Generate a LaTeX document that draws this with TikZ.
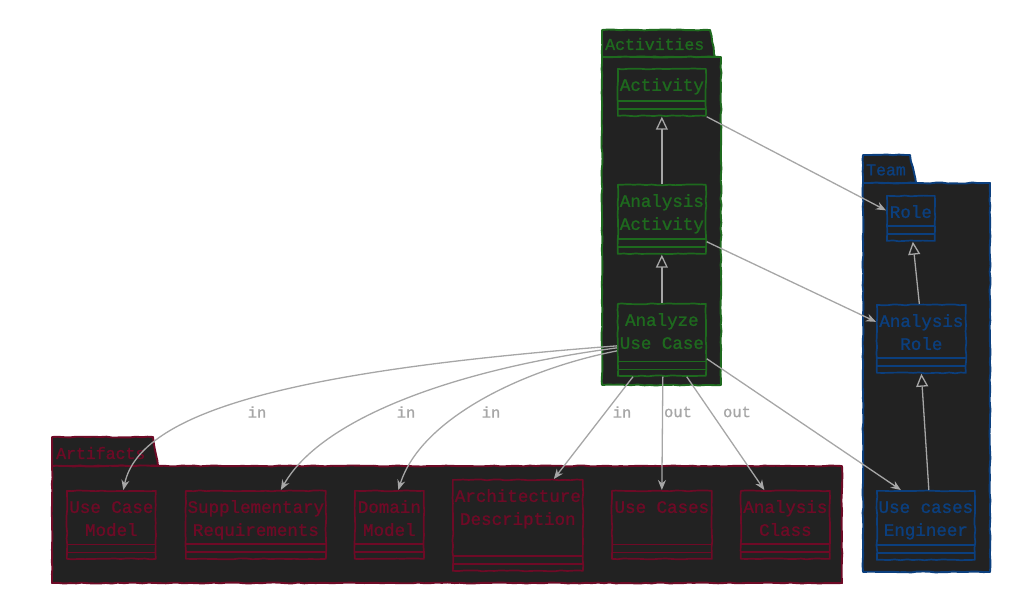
\documentclass[tikz,border=0pt]{standalone}
\usepackage{fontspec}
\newfontfamily\monofont[FakeBold=1.3]{Liberation Mono}
\usetikzlibrary{arrows.meta, decorations.pathmorphing}
\definecolor{panel}{HTML}{222222}
\definecolor{actgreen}{HTML}{1E6A1E}
\definecolor{teamblue}{HTML}{0B3F7E}
\definecolor{artred}{HTML}{6E0A26}
\definecolor{edgegray}{HTML}{A6A6A6}
\tikzset{
  wobbly/.style={decorate, decoration={random steps, segment length=6pt, amplitude=0.5pt}},
  paquet/.style={draw=#1, fill=panel, line width=1.9pt, line join=round, wobbly},
  pkglabel/.style={text=#1, anchor=west, inner sep=0pt, font=\monofont\fontsize{16.5}{20}\selectfont},
  classe/.style={draw=#1, text=#1, fill=panel, line width=1.7pt, line join=round, wobbly,
    font=\monofont\fontsize{17.5}{23}\selectfont, align=center, inner sep=0pt,
    text height=22pt, anchor=north west,
    path picture={\draw[#1, line width=1.7pt]
      ([yshift=15pt]path picture bounding box.south west) -- ([yshift=15pt]path picture bounding box.south east)
      ([yshift=7pt]path picture bounding box.south west) -- ([yshift=7pt]path picture bounding box.south east);}},
  lien/.style={draw=edgegray, line width=1.3pt, -{Stealth[length=10pt, width=8pt]}},
  herite/.style={draw=edgegray, line width=1.3pt, -{Triangle[open, length=13pt, width=12pt]}},
  lbl/.style={text=edgegray, inner sep=1pt, font=\monofont\fontsize{15.5}{18}\selectfont}
}
\begin{document}
\begin{tikzpicture}[x=1pt, y=-1pt]
  \pgfmathsetseed{7}
  \useasboundingbox (0,0) rectangle (1036,606);

  % Paquets
  \draw[paquet=actgreen] (602,57) -- (602,30) -- (710,30) -- (715,57) -- cycle;
  \draw[paquet=actgreen] (602,57) rectangle (721,385);
  \node[pkglabel=actgreen] (actlbl) at (605,44) {Activities};

  \draw[paquet=teamblue] (863,183) -- (863,155) -- (910,155) -- (916,183) -- cycle;
  \draw[paquet=teamblue] (863,183) rectangle (990,572);
  \node[pkglabel=teamblue] (teamlbl) at (866,170) {Team};

  \draw[paquet=artred] (52,466) -- (52,437) -- (153,437) -- (158,466) -- cycle;
  \draw[paquet=artred] (52,466) rectangle (842,583);
  \node[pkglabel=artred] (artlbl) at (56,453) {Artifacts};

  % Activites
  \node[classe=actgreen, minimum width=88pt, text depth=25pt] (activity) at (617,68) {Activity};
  \node[classe=actgreen, minimum width=88pt, text height=45pt, text depth=24pt] (anaact) at (617,184) {Analysis\\Activity};
  \node[classe=actgreen, minimum width=88pt, text height=45pt, text depth=27pt] (analyze) at (617,303) {Analyze\\Use Case};

  % Equipe
  \node[classe=teamblue, minimum width=48pt, text depth=23pt] (role) at (886,195) {Role};
  \node[classe=teamblue, minimum width=89pt, text height=45pt, text depth=23pt] (anarole) at (876,304) {Analysis\\Role};
  \node[classe=teamblue, minimum width=98pt, text height=45pt, text depth=24pt] (engineer) at (876,490) {Use cases\\Engineer};

  % Artefacts
  \node[classe=artred, minimum width=89pt, text height=45pt, text depth=23pt] (ucmodel) at (66,490) {Use Case\\Model};
  \node[classe=artred, minimum width=140pt, text height=45pt, text depth=23pt] (suppl) at (185,490) {Supplementary\\Requirements};
  \node[classe=artred, minimum width=69pt, text height=45pt, text depth=23pt] (domain) at (354,490) {Domain\\Model};
  \node[classe=artred, minimum width=130pt, text height=45pt, text depth=46pt] (archi) at (452,479) {Architecture\\Description};
  \node[classe=artred, minimum width=100pt, text depth=46pt] (usecases) at (611,490) {Use Cases};
  \node[classe=artred, minimum width=89pt, text height=45pt, text depth=23pt] (anaclass) at (740,490) {Analysis\\Class};

  % Heritage
  \draw[herite] (anaact.north) -- (activity.south);
  \draw[herite] (analyze.north) -- (anaact.south);
  \draw[herite] ([xshift=-2pt]anarole.north) -- ([xshift=2pt]role.south);
  \draw[herite] ([xshift=3pt]engineer.north) -- (anarole.south);

  % Associations
  \draw[lien] (activity.south east) -- ([yshift=8pt]role.west);
  \draw[lien] ([yshift=13pt]anaact.south east) -- ([yshift=17pt]anarole.west);
  \draw[lien] ([yshift=18pt]analyze.south east) -- ([xshift=-25pt]engineer.north);

  % Entrees et sorties
  \draw[lien] ([yshift=-6pt]analyze.west) .. controls (300,370) and (140,410) .. ([xshift=12pt]ucmodel.north);
  \draw[lien] ([yshift=-8pt]analyze.west) .. controls (450,370) and (320,420) .. ([xshift=25pt]suppl.north);
  \draw[lien] ([yshift=-11pt]analyze.west) .. controls (520,370) and (420,420) .. ([xshift=9pt]domain.north);
  \draw[lien] ([xshift=16pt]analyze.south west) -- ([xshift=36pt]archi.north);
  \draw[lien] ([xshift=1pt]analyze.south) -- (usecases.north);
  \draw[lien] ([xshift=-20pt]analyze.south east) -- ([xshift=-21pt]anaclass.north);

  \node[lbl] (in1) at (257,412) {in};
  \node[lbl] (in2) at (406,412) {in};
  \node[lbl] (in3) at (491,412) {in};
  \node[lbl] (in4) at (622,412) {in};
  \node[lbl] (out1) at (678,412) {out};
  \node[lbl] (out2) at (737,412) {out};
\end{tikzpicture}
\end{document}
